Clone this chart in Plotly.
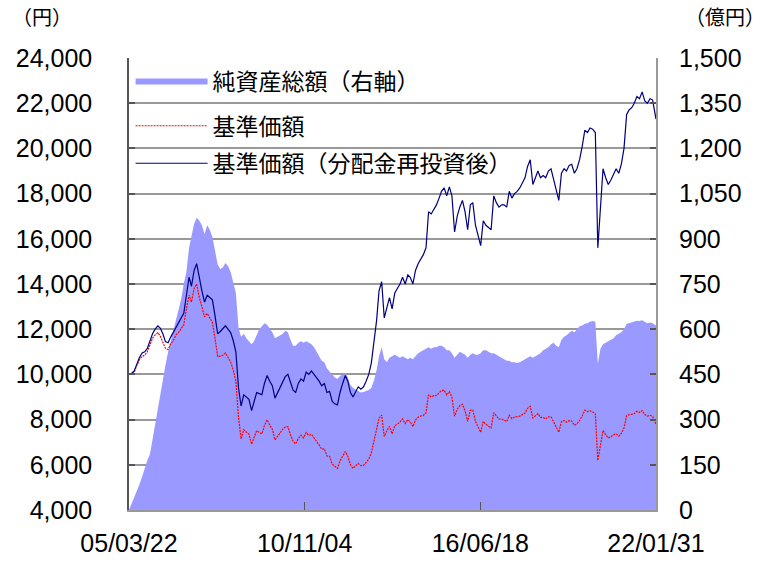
import plotly.graph_objects as go

dates = [
    "2005-03-22", "2005-04-22", "2005-05-22", "2005-06-22", "2005-07-22", "2005-08-22", "2005-09-22", "2005-10-22", "2005-11-22", "2005-12-22",
    "2006-01-22", "2006-02-22", "2006-03-22", "2006-04-22", "2006-05-22", "2006-06-22", "2006-07-22", "2006-08-22", "2006-09-22", "2006-10-22", "2006-11-22", "2006-12-22",
    "2007-01-22", "2007-02-22", "2007-03-22", "2007-04-22", "2007-05-22", "2007-06-22", "2007-07-22", "2007-08-22", "2007-09-22", "2007-10-22", "2007-11-22", "2007-12-22",
    "2008-01-22", "2008-02-22", "2008-03-22", "2008-04-22", "2008-05-22", "2008-06-22", "2008-07-22", "2008-08-22", "2008-09-22", "2008-10-22", "2008-11-22", "2008-12-22",
    "2009-01-22", "2009-02-22", "2009-03-22", "2009-04-22", "2009-05-22", "2009-06-22", "2009-07-22", "2009-08-22", "2009-09-22", "2009-10-22", "2009-11-22", "2009-12-22",
    "2010-01-22", "2010-02-22", "2010-03-22", "2010-04-22", "2010-05-22", "2010-06-22", "2010-07-22", "2010-08-22", "2010-09-22", "2010-10-22", "2010-11-22", "2010-12-22",
    "2011-01-22", "2011-02-22", "2011-03-22", "2011-04-22", "2011-05-22", "2011-06-22", "2011-07-22", "2011-08-22", "2011-09-22", "2011-10-22", "2011-11-22", "2011-12-22",
    "2012-01-22", "2012-02-22", "2012-03-22", "2012-04-22", "2012-05-22", "2012-06-22", "2012-07-22", "2012-08-22", "2012-09-22", "2012-10-22", "2012-11-22", "2012-12-22",
    "2013-01-22", "2013-02-22", "2013-03-22", "2013-04-22", "2013-05-22", "2013-06-22", "2013-07-22", "2013-08-22", "2013-09-22", "2013-10-22", "2013-11-22", "2013-12-22",
    "2014-01-22", "2014-02-22", "2014-03-22", "2014-04-22", "2014-05-22", "2014-06-22", "2014-07-22", "2014-08-22", "2014-09-22", "2014-10-22", "2014-11-22", "2014-12-22",
    "2015-01-22", "2015-02-22", "2015-03-22", "2015-04-22", "2015-05-22", "2015-06-22", "2015-07-22", "2015-08-22", "2015-09-22", "2015-10-22", "2015-11-22", "2015-12-22",
    "2016-01-22", "2016-02-22", "2016-03-22", "2016-04-22", "2016-05-22", "2016-06-22", "2016-07-22", "2016-08-22", "2016-09-22", "2016-10-22", "2016-11-22", "2016-12-22",
    "2017-01-22", "2017-02-22", "2017-03-22", "2017-04-22", "2017-05-22", "2017-06-22", "2017-07-22", "2017-08-22", "2017-09-22", "2017-10-22", "2017-11-22", "2017-12-22",
    "2018-01-22", "2018-02-22", "2018-03-22", "2018-04-22", "2018-05-22", "2018-06-22", "2018-07-22", "2018-08-22", "2018-09-22", "2018-10-22", "2018-11-22", "2018-12-22",
    "2019-01-22", "2019-02-22", "2019-03-22", "2019-04-22", "2019-05-22", "2019-06-22", "2019-07-22", "2019-08-22", "2019-09-22", "2019-10-22", "2019-11-22", "2019-12-22",
    "2020-01-22", "2020-02-22", "2020-03-22", "2020-04-22", "2020-05-22", "2020-06-22", "2020-07-22", "2020-08-22", "2020-09-22", "2020-10-22", "2020-11-22", "2020-12-22",
    "2021-01-22", "2021-02-22", "2021-03-22", "2021-04-22", "2021-05-22", "2021-06-22", "2021-07-22", "2021-08-22", "2021-09-22", "2021-10-22", "2021-11-22", "2021-12-22",
    "2022-01-31",
]

# 基準価額（分配金再投資後） 円
nav_reinvested = [
    10000, 10050, 10150, 10500, 10750, 10950, 11000, 11150, 11500, 11800,
    12000, 12150, 12050, 11800, 11450, 11400, 11650, 11850, 12100, 12300, 12500, 12700,
    13500, 14300, 13900, 14600, 14900, 14200, 13700, 13200, 13500, 13400, 13300, 12600,
    11800, 11900, 12000, 12150, 12000, 11850, 11500, 11000, 9400, 8600, 9100, 9000,
    8900, 8400, 8800, 9200, 9150, 9100, 9600, 9950, 9700, 9500, 8950, 9200,
    9400, 9700, 9900, 10000, 9600, 9300, 9200, 9600, 9800, 9700, 10100, 10000,
    10150, 10000, 9900, 9700, 9500, 9600, 9200, 9250, 8800, 8700, 8650, 9200,
    9600, 9950, 9700, 9200, 9000, 9250, 9450, 9350, 9450, 9700, 10000, 10500,
    11500, 12400, 13700, 14100, 12500, 13000, 13400, 12900, 13600, 13800, 14000, 14300,
    14000, 14400, 14300, 14000, 14600, 14900, 15100, 15300, 15600, 17200, 17100, 17300,
    17500, 17800, 18100, 18250, 17900, 18300, 17900, 16300, 17000, 17400, 17700, 17200,
    16400, 17500, 17600, 16600, 16200, 15700, 16800, 16600, 16500, 16400, 17900, 17600,
    17400, 17500, 17500, 17400, 18100, 17800, 18000, 18100, 18250, 18500, 18700, 19200,
    19500, 18400, 18700, 19000, 18700, 18800, 18700, 19000, 19100, 18600, 18200, 17700,
    18900, 19100, 19000, 19250, 19300, 18900, 19100, 19500, 20100, 20800, 20700, 20900,
    20850, 20700, 15600, 17600, 19100, 18700, 18400, 18600, 18900, 19100, 18900, 19300,
    20000, 21500, 21700, 21800, 22000, 22300, 22200, 22500, 22100, 22000, 22200, 22150,
    21300,
]

# 基準価額 円
nav = [
    10000, 10050, 10100, 10400, 10650, 10800, 10850, 11000, 11300, 11600,
    11750, 11850, 11700, 11450, 11150, 11100, 11350, 11500, 11750, 11850, 12050, 12200,
    12900, 13500, 13200, 13800, 14000, 13400, 13000, 12550, 12700, 12500, 12300, 11600,
    10800, 10800, 10850, 10950, 10750, 10550, 10200, 9700, 8100, 7150, 7550, 7450,
    7350, 6910, 7210, 7510, 7440, 7370, 7740, 7990, 7760, 7570, 7100, 7270,
    7400, 7580, 7670, 7690, 7330, 7050, 6920, 7160, 7310, 7190, 7430, 7300,
    7350, 7190, 7070, 6880, 6690, 6710, 6390, 6380, 6030, 5920, 5840, 6170,
    6400, 6590, 6380, 6010, 5840, 5970, 6060, 5960, 5980, 6100, 6250, 6520,
    7100, 7520, 8060, 8200, 7250, 7510, 7700, 7370, 7730, 7800, 7890, 8030,
    7820, 8000, 7900, 7690, 7980, 8100, 8160, 8180, 8300, 9100, 9000, 9060,
    9070, 9180, 9280, 9310, 9090, 9240, 8990, 8150, 8460, 8610, 8680, 8390,
    7920, 8410, 8420, 7920, 7710, 7440, 7920, 7790, 7710, 7630, 8310, 8150,
    8020, 8030, 7990, 7910, 8190, 8040, 8110, 8120, 8150, 8220, 8290, 8500,
    8590, 8070, 8170, 8260, 8100, 8100, 8030, 8120, 8130, 7880, 7680, 7440,
    7910, 7960, 7880, 7950, 7940, 7750, 7810, 7960, 8170, 8420, 8350, 8390,
    8340, 8250, 6190, 6960, 7520, 7330, 7190, 7240, 7330, 7370, 7270, 7390,
    7630, 8170, 8220, 8230, 8270, 8370, 8310, 8400, 8220, 8150, 8190, 8140,
    7800,
]

# 純資産総額 億円
net_assets = [
    0, 20, 45, 65, 85, 110, 140, 165, 185, 235,
    290, 340, 385, 430, 480, 525, 560, 595, 630, 665, 700, 750,
    790, 870, 910, 950, 970, 960, 945, 915, 945, 930, 905, 860,
    815, 800, 805, 820, 810, 790, 760, 720, 605, 575, 585, 570,
    560, 550, 560, 580, 600, 610, 620, 615, 600, 590, 570, 575,
    580, 585, 595, 590, 565, 545, 545, 555, 560, 555, 560, 555,
    550, 540, 525, 510, 495, 490, 470, 460, 450, 440, 435, 445,
    450, 455, 440, 415, 405, 400, 395, 390, 392, 395, 398, 405,
    430, 465, 510, 540, 500, 490, 505, 510, 515, 510, 505, 510,
    505, 500, 505, 500, 510, 520, 525, 530, 535, 540, 535, 540,
    540, 545, 545, 540, 530, 530, 520, 505, 515, 525, 520, 515,
    505, 515, 520, 515, 515, 520, 530, 530, 525, 520, 520, 515,
    510, 505, 500, 495, 495, 490, 490, 488, 490, 495, 500, 505,
    510, 505, 510, 515, 520, 530, 535, 540, 550, 555, 545, 540,
    565, 575, 580, 588, 595, 590, 600, 610, 612, 618, 620, 625,
    627, 625, 485, 535, 550, 555, 560, 565, 570, 580, 585, 590,
    600, 618, 620, 622, 625, 628, 627, 630, 625, 620, 622, 620,
    612,
]

x_tickvals = ["2005-03-22", "2010-11-04", "2016-06-18", "2022-01-31"]
x_ticktext = ["05/03/22", "10/11/04", "16/06/18", "22/01/31"]
left_ticks = list(range(4000, 24001, 2000))
right_ticks = list(range(0, 1501, 150))

names = ["純資産総額（右軸）", "基準価額", "基準価額（分配金再投資後）"]

tick_font = dict(family="Liberation Sans, Arial, sans-serif", size=25, color="#000000")
jp_font = "Noto Sans CJK JP"
legend_font = dict(family=jp_font, size=23, color="#000000")

fig = go.Figure()
fig.add_trace(go.Scatter(
    x=dates, y=net_assets, name=names[0], yaxis="y", mode="lines",
    fill="tozeroy", fillcolor="#9999FF", line=dict(color="#9999FF", width=0),
    legend="legend",
))
fig.add_trace(go.Scatter(
    x=dates, y=nav, name=names[1], yaxis="y2", mode="lines",
    line=dict(color="#FF0000", width=1.2, dash="2px,1px"), legend="legend2",
))
fig.add_trace(go.Scatter(
    x=dates, y=nav_reinvested, name=names[2], yaxis="y2", mode="lines",
    line=dict(color="#000080", width=1.2), legend="legend3",
))

legend_common = dict(
    x=0.003, xanchor="left", yanchor="middle",
    bgcolor="rgba(0,0,0,0)", borderwidth=0,
    font=legend_font, itemwidth=72,
)

fig.update_layout(
    width=778, height=569,
    margin=dict(l=129, r=122, t=58, b=50),
    paper_bgcolor="white", plot_bgcolor="white",
    font=dict(family=jp_font, color="#000000"),
    xaxis=dict(
        type="date", range=["2005-03-22", "2022-01-31"],
        tickmode="array", tickvals=x_tickvals, ticktext=x_ticktext,
        ticks="inside", ticklen=8, tickwidth=1, tickcolor="#555555",
        showline=True, linecolor="#999999", linewidth=2,
        showgrid=False, zeroline=False, tickfont=tick_font,
        ticklabelstandoff=10,
    ),
    yaxis=dict(
        side="right", range=[0, 1500], tickmode="array", tickvals=right_ticks,
        tickformat=",", showgrid=True, gridcolor="#999999", gridwidth=1.5,
        ticks="inside", ticklen=6, tickwidth=1.5, tickcolor="#555555",
        showline=True, linecolor="#999999", linewidth=2,
        zeroline=False, tickfont=tick_font, ticklabelstandoff=16,
    ),
    yaxis2=dict(
        side="left", overlaying="y", range=[4000, 24000], tickmode="array",
        tickvals=left_ticks, tickformat=",", showgrid=False,
        ticks="inside", ticklen=6, tickwidth=1.5, tickcolor="#555555",
        showline=True, linecolor="#555555", linewidth=1.5,
        zeroline=False, tickfont=tick_font, ticklabelstandoff=30,
    ),
    legend=dict(y=0.950, **legend_common),
    legend2=dict(y=0.850, **legend_common),
    legend3=dict(y=0.767, **legend_common),
    showlegend=True,
    annotations=[
        dict(text="（円）", xref="paper", yref="paper", x=-0.165, y=1.091,
             xanchor="center", yanchor="middle", showarrow=False,
             font=dict(family=jp_font, size=20, color="#000000")),
        dict(text="（億円）", xref="paper", yref="paper", x=1.13, y=1.091,
             xanchor="center", yanchor="middle", showarrow=False,
             font=dict(family=jp_font, size=20, color="#000000")),
    ],
)

fig.write_html(
    "out.html",
    config={"displayModeBar": False},
    post_script="document.body.style.margin='0';document.body.style.overflow='hidden';",
)
